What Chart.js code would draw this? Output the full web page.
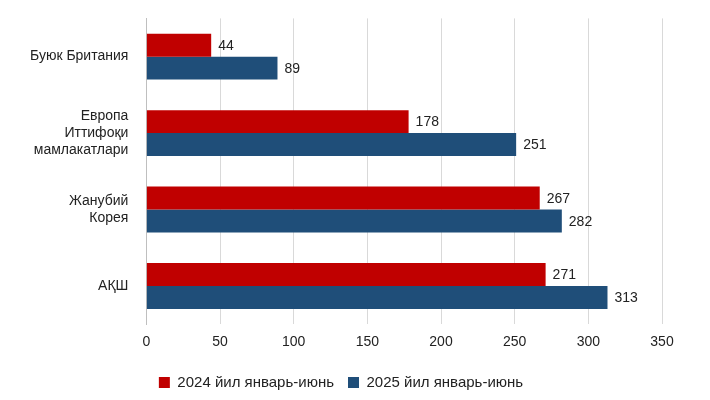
<!DOCTYPE html>
<html>
<head>
<meta charset="utf-8">
<script src="https://cdn.jsdelivr.net/npm/chart.js"></script>
<style>
  body { margin: 0; background: #fff; }
  #wrap { width: 710px; height: 400px; }
</style>
</head>
<body>
<div id="wrap"><canvas id="grafico"></canvas></div>
<script>
  const categorias = [
    'Буюк Британия',
    ['Европа', 'Иттифоқи', 'мамлакатлари'],
    ['Жанубий', 'Корея'],
    'АҚШ'
  ];
  const serie2024 = [44, 178, 267, 271];
  const serie2025 = [89, 251, 282, 313];
  const ticksX = [0, 50, 100, 150, 200, 250, 300, 350];

  // etiquetas al final de cada barra
  const etiquetas = {
    id: 'etiquetas',
    afterDatasetsDraw(chart) {
      const ctx = chart.ctx;
      ctx.save();
      ctx.font = '14px "Liberation Sans", Arial, sans-serif';
      ctx.fillStyle = '#222';
      ctx.textBaseline = 'middle';
      chart.data.datasets.forEach((ds, i) => {
        chart.getDatasetMeta(i).data.forEach((bar, j) => {
          ctx.fillText(ds.data[j], bar.x + 7, bar.y + 1);
        });
      });
      ctx.restore();
    }
  };

  Chart.defaults.font.family = '"Liberation Sans", Arial, sans-serif';
  Chart.defaults.color = '#222';

  new Chart(document.getElementById('grafico'), {
    type: 'bar',
    data: {
      labels: categorias,
      datasets: [
        { label: '2024 йил январь-июнь', data: serie2024, backgroundColor: '#c00000', barPercentage: 1, categoryPercentage: 0.6 },
        { label: '2025 йил январь-июнь', data: serie2025, backgroundColor: '#1f4e79', barPercentage: 1, categoryPercentage: 0.6 }
      ]
    },
    options: {
      indexAxis: 'y',
      responsive: true,
      maintainAspectRatio: false,
      animation: false,
      layout: { padding: { top: 14, right: 48, left: 20, bottom: 0 } },
      scales: {
        x: {
          min: 0, max: 350,
          afterBuildTicks: ax => { ax.ticks = ticksX.map(v => ({ value: v })); },
          grid: { color: '#d9d9d9', drawTicks: false },
          border: { display: false },
          ticks: { font: { size: 14 }, padding: 10 }
        },
        y: {
          grid: { display: false },
          border: { color: '#bfbfbf' },
          ticks: { font: { size: 14 }, padding: 10 }
        }
      },
      plugins: {
        legend: {
          position: 'bottom',
          labels: { boxWidth: 11, boxHeight: 11, font: { size: 15 }, padding: 14 }
        },
        tooltip: { enabled: false }
      }
    },
    plugins: [etiquetas]
  });
</script>
</body>
</html>
